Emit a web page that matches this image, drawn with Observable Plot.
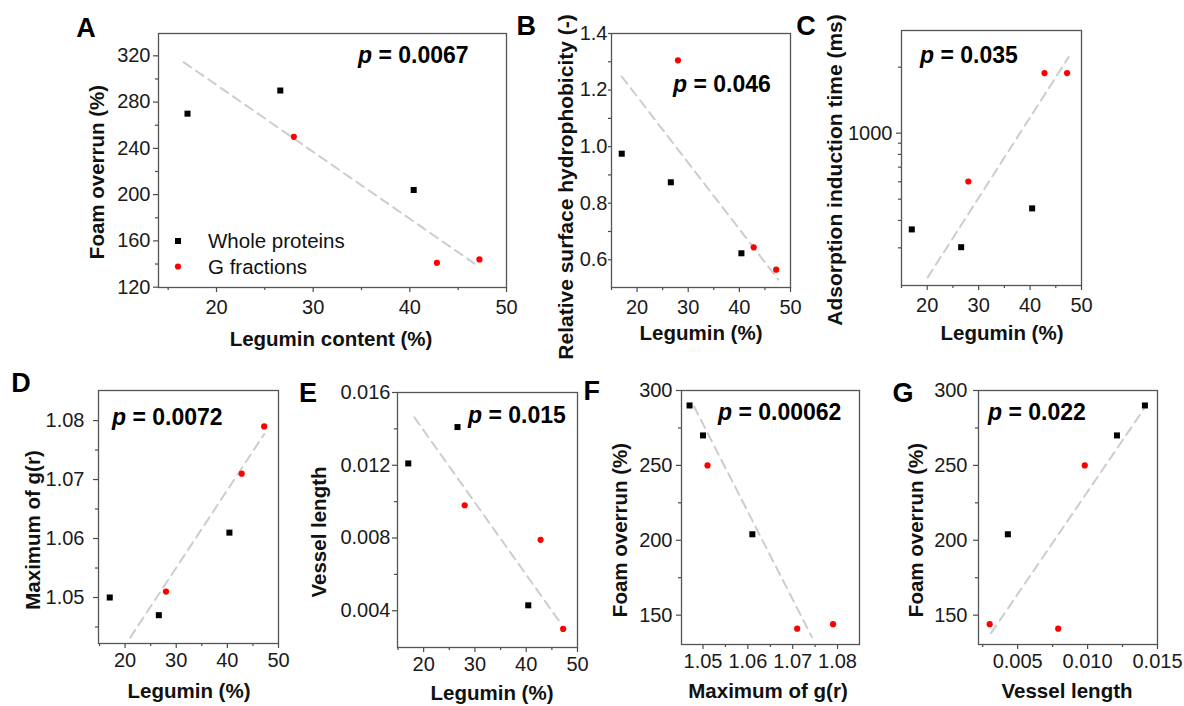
<!DOCTYPE html>
<html>
<head>
<meta charset="utf-8">
<script src="https://cdn.jsdelivr.net/npm/d3@7"></script>
<script src="https://cdn.jsdelivr.net/npm/@observablehq/plot@0.6"></script>
<style>
  body { margin: 0; background: #fff; }
  #fig { position: relative; width: 1184px; height: 706px; overflow: hidden; background: #fff;
         font-family: "Liberation Sans", Arial, Helvetica, sans-serif; }
  #fig svg { position: absolute; left: 0; top: 0; }
</style>
</head>
<body>
<div id="fig"></div>
<script>
// ---------------- data ----------------
const groups = ["Whole proteins", "G fractions"];
const leguminWhole = [17, 26.6, 40.4];
const leguminG = [28, 42.8, 47.2];
const foamWhole = [270, 290, 204];
const foamG = [250, 141, 144];
const hydroWhole = [0.975, 0.874, 0.623];
const hydroG = [1.305, 0.644, 0.565];
const adsorbWhole = [364, 302, 454];
const adsorbG = [602, 1879, 1879];
const gmaxWhole = [1.050, 1.047, 1.061];
const gmaxG = [1.051, 1.071, 1.079];
const vesselWhole = [0.0121, 0.0141, 0.0043];
const vesselG = [0.0098, 0.0079, 0.0030];
const panelLetters = ["A", "B", "C", "D", "E", "F", "G"];
const pValues = ["0.0067", "0.046", "0.035", "0.0072", "0.015", "0.00062", "0.022"];
const xTitles = ["Legumin content (%)", "Legumin (%)", "Legumin (%)", "Legumin (%)", "Legumin (%)", "Maximum of g(r)", "Vessel length"];
const yTitles = ["Foam overrun (%)", "Relative surface hydrophobicity (-)", "Adsorption induction time (ms)", "Maximum of g(r)", "Vessel length", "Foam overrun (%)", "Foam overrun (%)"];
// dashed fit lines: end points
const fitAx = [16.6, 46.7], fitAy = [314.5, 140.3];
const fitBx = [17.0, 47.6], fitBy = [1.248, 0.530];
const fitCx = [20.1, 47.5], fitCy = [220, 2222];
const fitDx = [21.0, 47.2], fitDy = [1.0432, 1.0777];
const fitEx = [18.2, 46.6], fitEy = [0.01463, 0.00336];
const fitFx = [1.048, 1.0743], fitFy = [289.3, 135.3];
const fitGx = [0.0031, 0.0142], fitGy = [138, 290];
// tick values
const legTicks = [20, 30, 40, 50], legMinor = [15, 25, 35, 45];
const foamTicksA = [120, 160, 200, 240, 280, 320], foamMinorA = [140, 180, 220, 260, 300];
const hydroTicks = [0.6, 0.8, 1.0, 1.2, 1.4], hydroMinor = [0.7, 0.9, 1.1, 1.3];
const adsorbTicks = [1000], adsorbMinor = [300, 400, 500, 600, 700, 800, 900, 2000];
const gmaxTicks = [1.05, 1.06, 1.07, 1.08], gmaxMinor = [1.045, 1.055, 1.065, 1.075];
const vesselTicksE = [0.004, 0.008, 0.012, 0.016], vesselMinorE = [0.006, 0.010, 0.014];
const foamTicks = [150, 200, 250, 300], foamMinor = [175, 225, 275];
const gmaxTicksF = [1.05, 1.06, 1.07, 1.08], gmaxMinorF = [1.055, 1.065, 1.075];
const vesselTicksG = [0.005, 0.010, 0.015], vesselMinorG = [0.0025, 0.0075, 0.0125];

// ---------------- layout ----------------
const W = 1184, H = 706;
const FONT = '"Liberation Sans", Arial, Helvetica, sans-serif';
const TICK_FS = 20;
const rows = (xs, ys) => xs.map((x, i) => ({x, y: ys[i]}));
const fInt = d3.format("d"), f1 = d3.format(".1f"), f2 = d3.format(".2f"), f3 = d3.format(".3f");

const panels = [
  {frame: [158, 33, 506, 287], xDomain: [14, 50], yDomain: [119.7, 339.3],
   xTicks: legTicks, xMinor: legMinor, yTicks: foamTicksA, yMinor: foamMinorA, xFmt: fInt, yFmt: fInt,
   xs: [leguminWhole, leguminG], ys: [foamWhole, foamG], fit: [fitAx, fitAy], xPad: 7, yPad: 3},
  {frame: [611, 33, 790, 287], xDomain: [15, 50], yDomain: [0.502, 1.4],
   xTicks: legTicks, xMinor: legMinor, yTicks: hydroTicks, yMinor: hydroMinor, xFmt: fInt, yFmt: f1,
   xs: [leguminWhole, leguminG], ys: [hydroWhole, hydroG], fit: [fitBx, fitBy], xPad: 7, yPad: 1, yTick: 3},
  {frame: [901, 30, 1081, 285], xDomain: [15, 50], yDomain: [202, 2939], yType: "log",
   xTicks: legTicks, xMinor: legMinor, yTicks: adsorbTicks, yMinor: adsorbMinor, xFmt: fInt, yFmt: fInt,
   xs: [leguminWhole, leguminG], ys: [adsorbWhole, adsorbG], fit: [fitCx, fitCy], xPad: 7, yPad: 4},
  {frame: [98, 390, 278, 643], xDomain: [14.8, 50], yDomain: [1.0422, 1.0851],
   xTicks: legTicks, xMinor: legMinor, yTicks: gmaxTicks, yMinor: gmaxMinor, xFmt: fInt, yFmt: f2,
   xs: [leguminWhole, leguminG], ys: [gmaxWhole, gmaxG], fit: [fitDx, fitDy], xPad: 4, yPad: 9},
  {frame: [397, 392, 577, 647], xDomain: [14.9, 50], yDomain: [0.00198, 0.016],
   xTicks: legTicks, xMinor: legMinor, yTicks: vesselTicksE, yMinor: vesselMinorE, xFmt: fInt, yFmt: f3,
   xs: [leguminWhole, leguminG], ys: [vesselWhole, vesselG], fit: [fitEx, fitEy], xPad: 4, yPad: 2},
  {frame: [681, 390, 859, 644], xDomain: [1.0452, 1.0849], yDomain: [130.4, 300],
   xTicks: gmaxTicksF, xMinor: gmaxMinorF, yTicks: foamTicks, yMinor: foamMinor, xFmt: f2, yFmt: fInt,
   xs: [gmaxWhole, gmaxG], ys: [foamWhole, foamG], fit: [fitFx, fitFy], xPad: 4, yPad: 4},
  {frame: [978, 390, 1157, 644], xDomain: [0.0022, 0.015], yDomain: [130.4, 300],
   xTicks: vesselTicksG, xMinor: vesselMinorG, yTicks: foamTicks, yMinor: foamMinor, xFmt: f3, yFmt: fInt,
   xs: [vesselWhole, vesselG], ys: [foamWhole, foamG], fit: [fitGx, fitGy], xPad: 4, yPad: 6}
];

const fig = document.getElementById("fig");
for (const p of panels) {
  const [l, t, r, b] = p.frame;
  const axisStyle = {stroke: "#4a4a4a", fill: "#1a1a1a", fontSize: TICK_FS, label: null, strokeWidth: 1.2};
  const chart = Plot.plot({
    width: W, height: H,
    marginLeft: l, marginTop: t, marginRight: W - r, marginBottom: H - b,
    style: {background: "transparent", fontFamily: FONT, fontSize: TICK_FS + "px", color: "#1a1a1a", overflow: "visible"},
    x: {type: p.xType || "linear", domain: p.xDomain},
    y: {type: p.yType || "linear", domain: p.yDomain},
    marks: [
      Plot.axisX(p.xTicks, {...axisStyle, tickSize: 5, tickPadding: p.xPad, tickFormat: p.xFmt}),
      Plot.axisX(p.xMinor, {...axisStyle, tickSize: 3, tickFormat: () => ""}),
      Plot.axisY(p.yTicks, {...axisStyle, tickSize: p.yTick || 5, tickPadding: p.yPad, tickFormat: p.yFmt}),
      Plot.axisY(p.yMinor, {...axisStyle, tickSize: 3, tickFormat: () => ""}),
      Plot.line(rows(p.fit[0], p.fit[1]), {x: "x", y: "y", stroke: "#cdcdcd", strokeWidth: 2, strokeDasharray: "9,6", clip: true}),
      Plot.dot(rows(p.xs[0], p.ys[0]), {x: "x", y: "y", symbol: "square", r: 3.4, fill: "#000", stroke: "none"}),
      Plot.dot(rows(p.xs[1], p.ys[1]), {x: "x", y: "y", symbol: "circle", r: 3.1, fill: "#ff0000", stroke: "none"}),
      Plot.frame({stroke: "#555", strokeWidth: 1.3})
    ]
  });
  // enforce the tick-label font on every text of the chart
  d3.select(chart).attr("font-size", TICK_FS).attr("font-family", FONT);
  d3.select(chart).selectAll("g").each(function () {
    if (this.hasAttribute("font-size")) this.setAttribute("font-size", TICK_FS);
  });
  d3.select(chart).selectAll("text")
    .attr("font-size", TICK_FS)
    .style("font-size", TICK_FS + "px")
    .style("font-family", FONT);
  fig.appendChild(chart);
}

// ---------------- annotations (letters, p values, titles, legend) ----------------
const svg = d3.select(fig).append("svg")
  .attr("width", W).attr("height", H)
  .attr("font-family", FONT).style("overflow", "visible");

const letterPos = [[86, 37, "middle"], [536, 35, "end"], [806, 35, "middle"], [21, 392, "middle"], [308, 402, "middle"], [600, 400, "end"], [903, 402, "middle"]];
panelLetters.forEach((L, i) => {
  const [x, y, a] = letterPos[i];
  svg.append("text").attr("x", x).attr("y", y).attr("text-anchor", a)
    .attr("font-size", 27).attr("font-weight", "bold").attr("fill", "#000").text(L);
});

const pPos = [[358, 63], [673, 92], [920, 63], [112, 425], [468, 423], [718, 420], [988, 420]];
pValues.forEach((v, i) => {
  const [x, y] = pPos[i];
  const t = svg.append("text").attr("x", x).attr("y", y).attr("font-size", 23)
    .attr("font-weight", "bold").attr("fill", "#000").style("white-space", "pre");
  t.append("tspan").attr("font-style", "italic").text("p");
  t.append("tspan").text(" = " + v);
});

const xtPos = [[331, 346], [701, 340], [1002, 340], [189, 698], [492, 700], [768, 698], [1067, 698]];
xTitles.forEach((s, i) => {
  const [x, y] = xtPos[i];
  svg.append("text").attr("x", x).attr("y", y).attr("text-anchor", "middle")
    .attr("font-size", 20.5).attr("font-weight", "bold").attr("fill", "#111").text(s);
});

const ytPos = [[104, 172, 20.5], [573, 187, 21], [842, 170, 21], [40, 530, 20.5], [326, 532, 20.5], [627, 530, 20.5], [923, 530, 20.5]];
yTitles.forEach((s, i) => {
  const [x, y, fs] = ytPos[i];
  svg.append("text").attr("transform", `translate(${x},${y}) rotate(-90)`).attr("text-anchor", "middle")
    .attr("font-size", fs).attr("font-weight", "bold").attr("fill", "#111").text(s);
});

// legend of panel A
const leg = svg.append("g");
leg.append("rect").attr("x", 175).attr("y", 238).attr("width", 6).attr("height", 6).attr("fill", "#000");
leg.append("text").attr("x", 208).attr("y", 248).attr("font-size", 20.5).attr("fill", "#111").text(groups[0]);
leg.append("circle").attr("cx", 178).attr("cy", 266.5).attr("r", 3.1).attr("fill", "#ff0000");
leg.append("text").attr("x", 208).attr("y", 274).attr("font-size", 20.5).attr("fill", "#111").text(groups[1]);
</script>
</body>
</html>
